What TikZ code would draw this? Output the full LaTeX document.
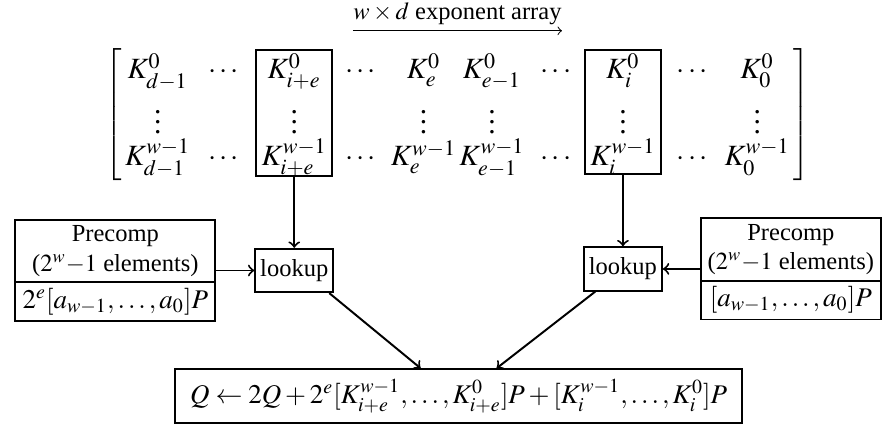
\documentclass[tikz,border=0pt]{standalone}
\usepackage{mathptmx}
\usepackage[no-math]{fontspec}
\setmainfont{Liberation Serif}
\usetikzlibrary{matrix,fit,positioning,shapes.multipart,calc}
\newcommand{\mathsz}{\fontsize{11}{13.2}\selectfont}
\newcommand{\pl}{\mathbin{+}}
\newcommand{\cm}{\mathpunct{,}}
\begin{document}
\begin{tikzpicture}[>=to,node distance=14pt,
  lookbox/.style={draw,thick,inner xsep=2pt,inner ysep=4.3pt},
  precomp/.style={draw,thick,rectangle split,rectangle split parts=2,align=center,inner ysep=2pt},
  colbox/.style={draw,thick,inner xsep=0pt,inner ysep=0pt}]
\useasboundingbox (0,0) rectangle (361.2pt,-172.7pt);
% exponent array, one column per digit position
\matrix (m) at (186.7pt,-47.1pt) [matrix of math nodes,inner xsep=0pt,inner ysep=0pt,
  nodes={inner xsep=0pt,inner ysep=1pt,font=\large},
  left delimiter={[},right delimiter={]},column sep=0pt,row sep=0.3pt,
  every left delimiter/.style={xshift=4.3pt},
  every right delimiter/.style={xshift=-4.3pt},
  column 1/.style={nodes={minimum width=20.8pt}},
  column 2/.style={nodes={minimum width=27.1pt}},
  column 3/.style={nodes={minimum width=30.6pt}},
  column 4/.style={nodes={minimum width=23.5pt}},
  column 5/.style={nodes={minimum width=28pt}},
  column 6/.style={nodes={minimum width=27.8pt}},
  column 7/.style={nodes={minimum width=24.3pt}},
  column 8/.style={nodes={minimum width=30.5pt}},
  column 9/.style={nodes={minimum width=26.2pt}},
  column 10/.style={nodes={minimum width=24.1pt}}] {
K^0_{d-1} & \cdots & K^0_{i+e} & \cdots & K^0_e & K^0_{e-1} & \cdots & K^0_i & \cdots & K^0_0 \\
\vdots & & \vdots & & \vdots & \vdots & & \vdots & & \vdots \\
K^{w-1}_{d-1} & \cdots & K^{w-1}_{i+e} & \cdots & K^{w-1}_e & K^{w-1}_{e-1} & \cdots & K^{w-1}_i & \cdots & K^{w-1}_0 \\
};
\coordinate (botA) at ([yshift=1.5pt]m-3-3.south);
\coordinate (botB) at ([yshift=1.5pt]m-3-8.south);
\node[colbox,fit=(m-1-3)(botA)] (colA) {};
\node[colbox,fit=(m-1-8)(botB)] (colB) {};

\node[inner xsep=0pt,inner ysep=2.3pt,above=8pt of m] (lbl) {$w\times d$ exponent array};
\draw[->] (lbl.south west) -- (lbl.south east);

\node[lookbox,below=29pt of colA] (lookL) {lookup};
\node[lookbox,below=29pt of colB] (lookR) {lookup};
\node[precomp,inner xsep=3pt,left=15.5pt of lookL] (preL) {Precomp\\($2^w{-}1$ elements)\nodepart{two}\mathsz$2^e[a_{w-1}\cm\ldots\cm a_0]P$};
\node[precomp,inner xsep=2.9pt,right=15pt of lookR] (preR) {Precomp\\($2^w{-}1$ elements)\nodepart{two}\mathsz$[a_{w-1}\cm\ldots\cm a_0]P$};
\node[draw,thick,inner xsep=6pt,inner ysep=4pt,anchor=north,font=\mathsz] (res) at ($(lookL.south)!0.5!(lookR.south)+(0,-31pt)$)
  {$Q \leftarrow 2Q \pl 2^e[K^{w-1}_{i+e}\cm\ldots\cm K^0_{i+e}]P \pl [K^{w-1}_i\cm\ldots\cm K^0_i]P$};

\draw[->,thick] (colA) -- (lookL);
\draw[->,thick] (colB) -- (lookR);
\draw[->,thick] (preL) -- (lookL);
\draw[->,thick] (preR) -- (lookR);
\draw[->,thick] ([xshift=-2pt]lookL.south east) -- ([xshift=-15.5pt]res.north);
\draw[->,thick] ([xshift=5pt]lookR.south west) -- ([xshift=15.5pt]res.north);
\end{tikzpicture}
\end{document}
